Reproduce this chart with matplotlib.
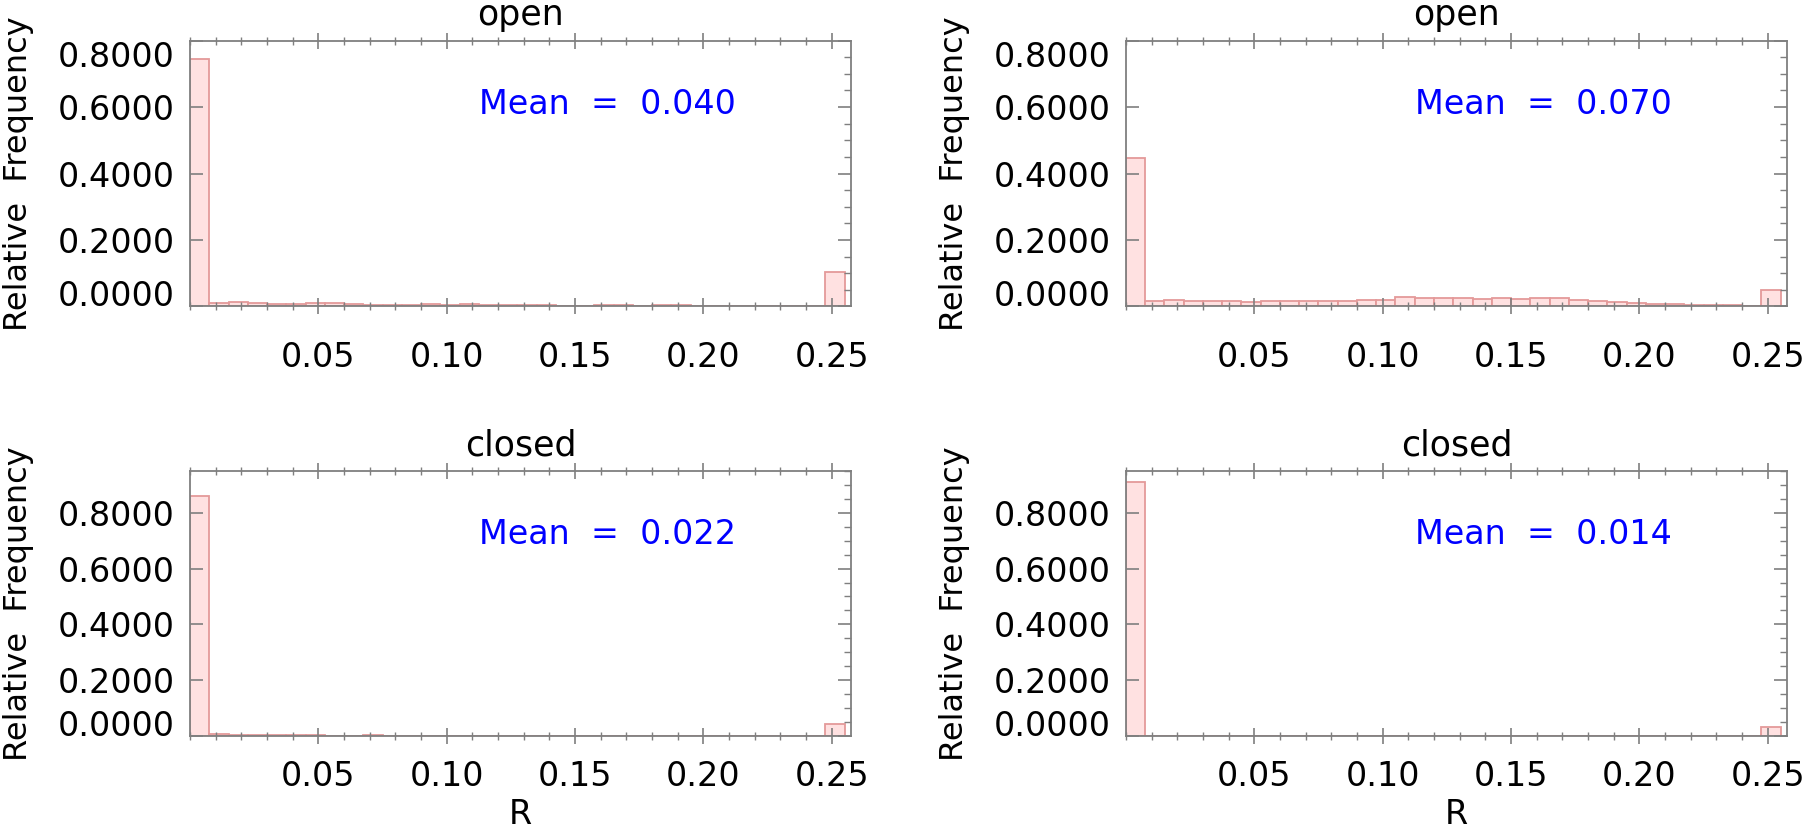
import numpy as np
import matplotlib
matplotlib.use('Agg')
import matplotlib.pyplot as plt
from matplotlib.ticker import MultipleLocator, FormatStrFormatter

# Histogramas de R (frecuencia relativa), 34 clases de ancho 0.0075
bin_width = 0.0075
n_bins = 34

titles = ['open', 'open', 'closed', 'closed']
means = ['0.040', '0.070', '0.022', '0.014']

freq_open_a = [0.745, 0.009, 0.013, 0.009, 0.006, 0.006, 0.009, 0.009, 0.006, 0.004,
               0.003, 0.003, 0.006, 0.003, 0.006, 0.003, 0.003, 0.003, 0.003, 0.002,
               0.002, 0.003, 0.003, 0.0, 0.003, 0.003, 0.001, 0.002, 0.002, 0.002,
               0.001, 0.002, 0.0, 0.103]
freq_open_b = [0.448, 0.016, 0.019, 0.016, 0.016, 0.015, 0.013, 0.015, 0.016, 0.016,
               0.016, 0.016, 0.018, 0.019, 0.028, 0.024, 0.025, 0.025, 0.021, 0.025,
               0.022, 0.025, 0.025, 0.019, 0.016, 0.014, 0.010, 0.008, 0.007, 0.004,
               0.003, 0.003, 0.0, 0.049]
freq_closed_a = [0.861, 0.007, 0.005, 0.004, 0.004, 0.004, 0.004, 0.002, 0.002, 0.004,
                 0.002, 0.002, 0.002, 0.0, 0.002, 0.001, 0.001, 0.001, 0.002, 0.0,
                 0.002, 0.0, 0.001, 0.0, 0.0, 0.0, 0.0, 0.001, 0.0, 0.0,
                 0.0, 0.0, 0.0, 0.044]
freq_closed_b = [0.908, 0.002, 0.002, 0.001, 0.002, 0.001, 0.001, 0.001, 0.0, 0.0,
                 0.001, 0.0, 0.0, 0.0, 0.0, 0.0, 0.0, 0.0, 0.0, 0.001,
                 0.0, 0.0, 0.0, 0.0, 0.0, 0.001, 0.0, 0.0, 0.0, 0.0,
                 0.0, 0.0, 0.0, 0.032]
series = [freq_open_a, freq_open_b, freq_closed_a, freq_closed_b]
y_max = [0.8, 0.8, 0.95, 0.95]

x_ticks = [0.05, 0.10, 0.15, 0.20, 0.25]
y_ticks = [0.0, 0.2, 0.4, 0.6, 0.8]

plt.rcParams['font.family'] = 'DejaVu Sans'
fig = plt.figure(figsize=(18.03, 8.38), dpi=100)

# posiciones de los ejes (fracciones de la figura)
boxes = [[0.1054, 0.6343, 0.3666, 0.3172],
         [0.6245, 0.6343, 0.3666, 0.3172],
         [0.1054, 0.1214, 0.3666, 0.3169],
         [0.6245, 0.1214, 0.3666, 0.3169]]

edges = np.arange(n_bins) * bin_width
gray = '#7f7f7f'

for i in range(4):
    ax = fig.add_axes(boxes[i])
    ax.bar(edges, series[i], width=bin_width, align='edge',
           color='#ffe1e1', edgecolor='#e49a9a', linewidth=1.3)
    ax.set_xlim(0, 0.2575)
    ax.set_ylim(0, y_max[i])

    ax.set_xticks(x_ticks)
    ax.xaxis.set_major_formatter(FormatStrFormatter('%.2f'))
    ax.xaxis.set_minor_locator(MultipleLocator(0.01))
    ax.set_yticks(y_ticks)
    ax.yaxis.set_major_formatter(FormatStrFormatter('%.4f'))
    ax.yaxis.set_minor_locator(MultipleLocator(0.05))

    xpad = 19 if i < 2 else 11
    ax.tick_params(axis='x', which='major', direction='inout', length=12, width=1.2,
                   color=gray, top=True, bottom=True, labelsize=24, pad=xpad)
    ax.tick_params(axis='x', which='minor', direction='inout', length=6, width=1.0,
                   color=gray, top=True, bottom=True)
    ax.tick_params(axis='y', which='major', direction='in', length=9.5, width=1.2,
                   color=gray, left=True, right=True, labelsize=24, pad=11)
    ax.tick_params(axis='y', which='minor', direction='in', length=5, width=1.0,
                   color=gray, left=False, right=True)
    for sp in ax.spines.values():
        sp.set_color(gray)
        sp.set_linewidth(1.3)

    # etiquetas extremas dentro del rango del eje
    yt = ax.yaxis.get_major_ticks()
    yt[0].label1.set_va('baseline')
    if y_ticks[-1] >= y_max[i]:
        yt[-1].label1.set_va('top')

    ax.set_title(titles[i], fontsize=25, y=1.0, pad=11)
    ax.text(-0.26, 0.5, 'Relative  Frequency', transform=ax.transAxes,
            rotation=90, ha='center', va='center', fontsize=23)
    ax.text(0.437, 0.76, 'Mean  =  ' + means[i], transform=ax.transAxes,
            ha='left', va='center', fontsize=24, color='#0000ff')
    if i >= 2:
        ax.set_xlabel('R', fontsize=24, labelpad=3.5)

fig.savefig('out.png', dpi=100)
